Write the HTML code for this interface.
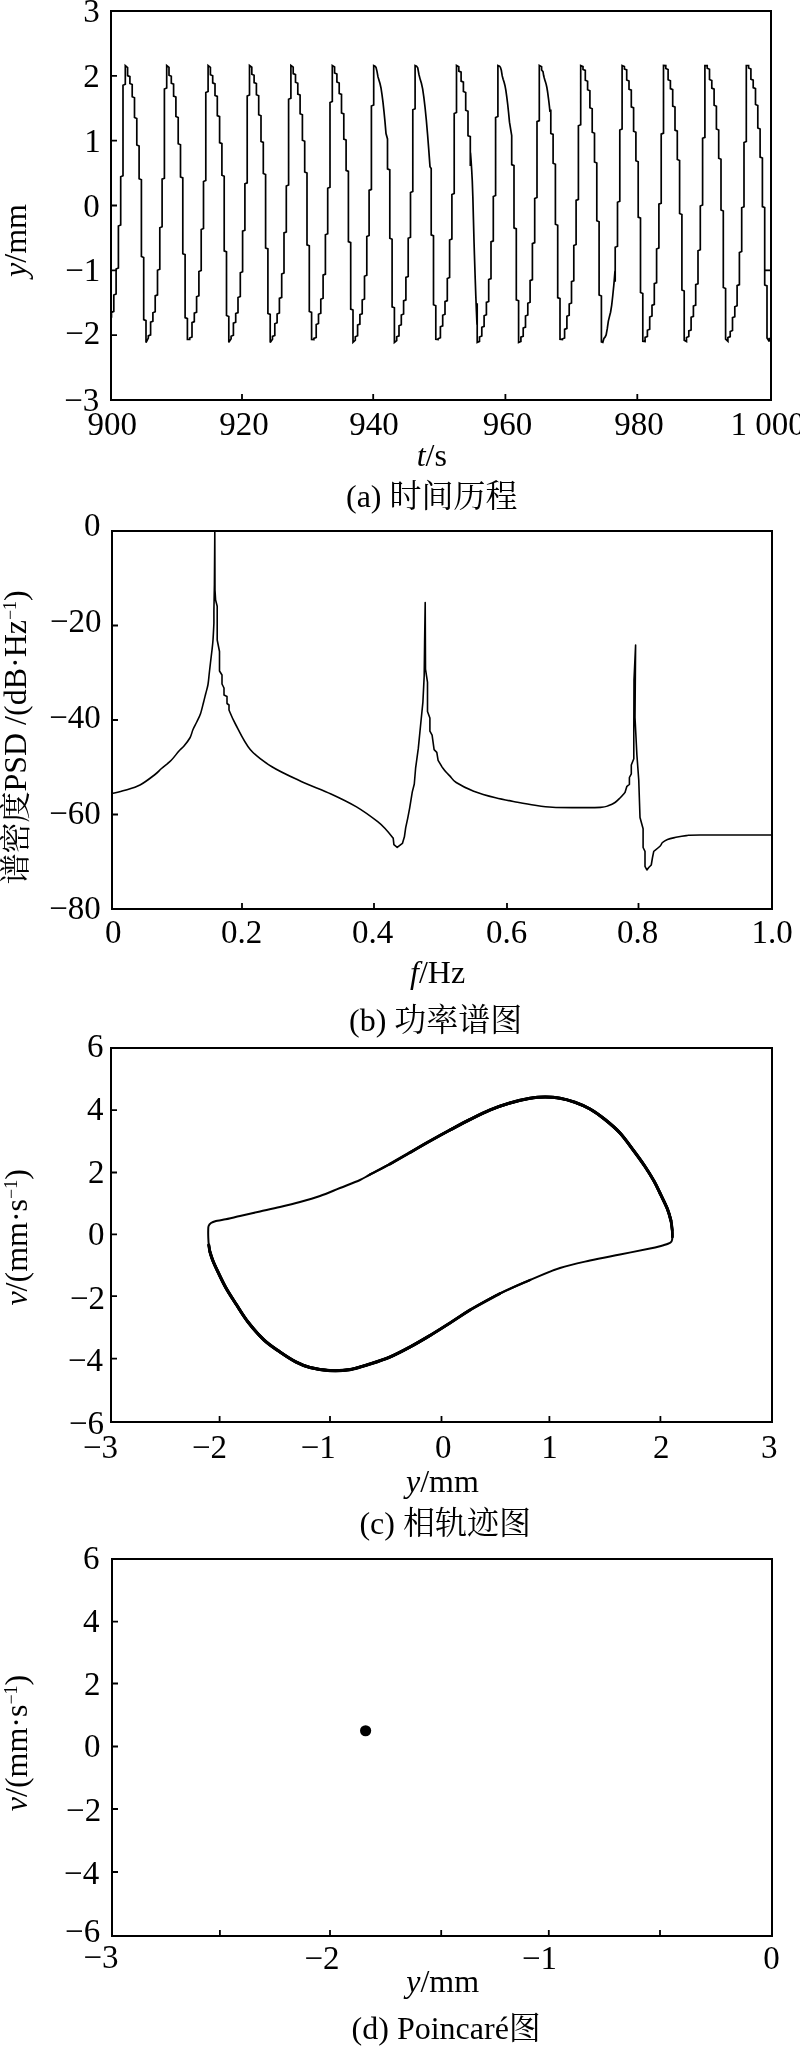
<!DOCTYPE html>
<html><head><meta charset="utf-8"><style>
html,body{margin:0;padding:0;background:#fff;}
svg{display:block;will-change:transform;}
text{font-family:"Liberation Serif","Noto Serif CJK SC",serif;fill:#000;}
</style></head><body>
<svg width="800" height="2046" viewBox="0 0 800 2046">
<rect width="800" height="2046" fill="#fff"/>
<rect x="111" y="11" width="660" height="389" fill="none" stroke="#000" stroke-width="2"/>
<path d="M242 400V394M373.2 400V394M505.4 400V394M637.3 400V394M111 75.83H117M111 140.67H117M111 205.5H117M111 270.33H117M111 335.17H117" stroke="#000" stroke-width="1.8" fill="none"/>
<path d="M771 270.33H765" stroke="#000" stroke-width="1.8"/>
<path d="M111.5 317.81 L111.5 312.4 L113.8 311.4 L113.8 295.02 L116.1 294.02 L116.1 268.98 L118.4 267.98 L118.4 226.01 L120.7 225.01 L120.7 176.75 L123 175.75 L123 85.29 L125.3 84.29 L125.3 65.51 L127.6 67.52 L127.6 75.63 L129.9 76.63 L129.9 83.49 L132.2 84.49 L132.2 96.78 L134.5 97.78 L134.5 117.48 L136.8 118.48 L136.8 144.96 L139.1 145.96 L139.1 178.7 L141.4 179.7 L141.4 256.45 L143.7 257.45 L143.7 319.62 L146 320.62 L146 342.5 L148.3 338.13 L148.3 335.89 L150.6 334.89 L150.6 322.17 L152.9 321.17 L152.9 312.81 L155.2 311.81 L155.2 295.87 L157.5 294.87 L157.5 270.3 L159.8 269.3 L159.8 227.73 L162.1 226.73 L162.1 179.17 L164.4 178.17 L164.4 88.94 L166.7 87.94 L166.7 65.5 L169 67.41 L169 75.21 L171.3 76.21 L171.3 83.18 L173.6 84.18 L173.6 96.09 L175.9 97.09 L175.9 116.55 L178.2 117.55 L178.2 143.79 L180.5 144.79 L180.5 176.92 L182.8 177.92 L182.8 253.66 L185.1 254.66 L185.1 317.62 L187.4 318.62 L187.4 339.48 L189.7 339.5 L189.7 338.06 L192 337.06 L192 322.65 L194.3 321.65 L194.3 313.18 L196.6 312.18 L196.6 296.72 L198.9 295.72 L198.9 271.55 L201.2 270.55 L201.2 229.45 L203.5 228.45 L203.5 181.53 L205.8 180.53 L205.8 92.54 L208.1 91.54 L208.1 65.52 L210.4 67.31 L210.4 74.73 L212.7 75.73 L212.7 82.87 L215 83.87 L215 95.41 L217.3 96.41 L217.3 115.63 L219.6 116.63 L219.6 142.6 L221.9 143.6 L221.9 175.21 L224.2 176.21 L224.2 250.86 L226.5 251.86 L226.5 315.54 L228.8 316.54 L228.8 342.41 L231.1 338.84 L231.1 336.26 L233.4 335.26 L233.4 323.18 L235.7 322.18 L235.7 313.59 L238 312.59 L238 297.56 L240.3 296.56 L240.3 272.78 L242.6 271.78 L242.6 231.18 L244.9 230.18 L244.9 183.82 L247.2 182.82 L247.2 95.98 L249.5 94.98 L249.5 65.51 L251.8 67.21 L251.8 74.2 L254.1 75.2 L254.1 82.57 L256.4 83.57 L256.4 94.73 L258.7 95.73 L258.7 114.72 L261 115.72 L261 141.42 L263.3 142.42 L263.3 173.55 L265.6 174.55 L265.6 247.92 L267.9 248.92 L267.9 313.43 L270.2 314.43 L270.2 342.5 L272.5 339.3 L272.5 336.43 L274.8 335.43 L274.8 323.75 L277.1 322.75 L277.1 313.97 L279.4 312.97 L279.4 298.4 L281.7 297.4 L281.7 273.98 L284 272.98 L284 232.93 L286.3 231.93 L286.3 186.06 L288.6 185.06 L288.6 99.2 L290.9 98.2 L290.9 65.5 L293.2 67.11 L293.2 73.62 L295.5 74.62 L295.5 82.27 L297.8 83.27 L297.8 94.07 L300.1 95.07 L300.1 113.81 L302.4 114.81 L302.4 140.25 L304.7 141.25 L304.7 171.95 L307 172.95 L307 244.84 L309.3 245.84 L309.3 311.41 L311.6 312.41 L311.6 339.42 L313.9 339.5 L313.9 338.41 L316.2 337.41 L316.2 324.48 L318.5 323.48 L318.5 314.28 L320.8 313.28 L320.8 299.22 L323.1 298.22 L323.1 275.15 L325.4 274.15 L325.4 234.7 L327.7 233.7 L327.7 188.25 L330 187.25 L330 102.49 L332.3 101.49 L332.3 65.53 L334.6 67.03 L334.6 73.01 L336.9 74.01 L336.9 81.98 L339.2 82.98 L339.2 93.41 L341.5 94.41 L341.5 112.92 L343.8 113.92 L343.8 139.09 L346.1 140.09 L346.1 170.4 L348.4 171.4 L348.4 241.62 L350.7 242.62 L350.7 309.07 L353 310.07 L353 342.38 L355.3 340.25 L355.3 336.71 L357.6 335.71 L357.6 325.08 L359.9 324.08 L359.9 314.68 L362.2 313.68 L362.2 300.04 L364.5 299.04 L364.5 276.29 L366.8 275.29 L366.8 236.48 L369.1 235.48 L369.1 190.38 L371.4 189.38 L371.4 106 L373.7 105 L373.7 65.51 L375 66.09 L376 67.41 L377 71.33 L378 76.92 L379 80.31 L380 83.53 L381 87.95 L382 94.58 L383 102.42 L384 111.54 L385 121.85 L386 133.54 L387.5 138.94 L387.5 168.9 L389.8 169.9 L389.8 238.3 L392.1 239.3 L392.1 306.82 L394.4 307.82 L394.4 342.49 L396.7 340.69 L396.7 336.84 L399 335.84 L399 325.81 L401.3 324.81 L401.3 315.03 L403.6 314.03 L403.6 300.85 L405.9 299.85 L405.9 277.41 L408.2 276.41 L408.2 238.27 L410.5 237.27 L410.5 192.47 L412.8 191.47 L412.8 109.7 L415.1 108.7 L415.1 65.5 L416.5 66.1 L417.73 67.81 L418.95 74.47 L420.18 79.35 L421.41 83.24 L422.64 88.8 L423.86 97.43 L425.09 107.74 L426.32 119.99 L427.55 134.22 L428.77 149.94 L430 166.65 L431.2 168.44 L431.2 234.88 L433.5 235.88 L433.5 304.74 L435.8 305.74 L435.8 339.33 L438.1 339.5 L438.1 338.72 L440.4 337.72 L440.4 326.84 L442.7 325.84 L442.7 315.29 L445 314.29 L445 301.64 L447.3 300.64 L447.3 278.51 L449.6 277.51 L449.6 240.06 L451.9 239.06 L451.9 194.52 L454.2 193.52 L454.2 113.55 L456.5 112.55 L456.5 65.53 L458.8 66.81 L458.8 71.12 L461.1 72.12 L461.1 81.14 L463.4 82.14 L463.4 91.51 L465.7 92.51 L465.7 110.28 L468 111.28 L468 135.66 L470.3 136.66 L470.3 166.03 L470.5 152.93 L471.09 160.75 L471.68 169.76 L472.27 180.8 L472.86 197.3 L473.45 219.69 L474.05 242.54 L474.64 261.57 L475.23 279.33 L475.82 296.04 L476.41 311.25 L477 324.81 L477.2 303.21 L477.2 342.34 L479.5 341.34 L479.5 337.06 L481.8 336.06 L481.8 327.33 L484.1 326.33 L484.1 315.7 L486.4 314.7 L486.4 302.42 L488.7 301.42 L488.7 279.59 L491 278.59 L491 241.85 L493.3 240.85 L493.3 196.52 L495.6 195.52 L495.6 117.53 L497.9 116.53 L497.9 65.51 L499.5 66.11 L500.41 67.31 L501.32 70.3 L502.23 75.92 L503.14 79.27 L504.05 82.1 L504.95 85.43 L505.86 90.34 L506.77 96.88 L507.68 104.24 L508.59 112.73 L509.5 122.18 L511.7 135.53 L511.7 164.65 L514 165.65 L514 227.86 L516.3 228.86 L516.3 299.84 L518.6 300.84 L518.6 342.48 L520.9 341.48 L520.9 337.16 L523.2 336.16 L523.2 328.09 L525.5 327.09 L525.5 316.03 L527.8 315.03 L527.8 303.19 L530.1 302.19 L530.1 280.64 L532.4 279.64 L532.4 243.65 L534.7 242.65 L534.7 198.48 L537 197.48 L537 121.61 L539.3 120.61 L539.3 65.5 L541.6 66.69 L541.6 69.94 L543 71.61 L543.64 75.56 L544.27 78.08 L544.91 80.15 L545.55 82.13 L546.18 84.36 L546.82 87.19 L547.45 91 L548.09 95.57 L548.73 100.51 L549.36 105.94 L550 111.93 L550.8 109.57 L550.8 133.41 L553.1 134.41 L553.1 163.31 L555.4 164.31 L555.4 224.29 L557.7 225.29 L557.7 297.65 L560 298.65 L560 339.21 L562.3 339.5 L562.3 338.98 L564.6 337.98 L564.6 329.38 L566.9 328.38 L566.9 316.26 L569.2 315.26 L569.2 303.94 L571.5 302.94 L571.5 281.67 L573.8 280.67 L573.8 245.44 L576.1 244.44 L576.1 200.4 L578.4 199.4 L578.4 125.76 L580.7 124.76 L580.7 65.51 L583 66.64 L583 69.41 L585.3 70.41 L585.3 80.31 L587.6 81.31 L587.6 89.74 L589.9 90.74 L589.9 107.73 L592.2 108.73 L592.2 132.31 L594.5 133.31 L594.5 162.01 L596.8 163.01 L596.8 220.7 L599.1 221.7 L599.1 295 L601.4 296 L601.4 341.97 L602.8 342.38 L603.91 338.41 L605.02 337.17 L606.13 335.01 L607.24 328.88 L608.35 321.13 L609.45 316.66 L610.56 312.24 L611.67 305.29 L612.78 295.48 L613.89 284.43 L615 270.86 L615.2 281.69 L615.2 247.22 L617.5 246.22 L617.5 202.3 L619.8 201.3 L619.8 129.94 L622.1 128.94 L622.1 65.52 L624.4 66.6 L624.4 68.93 L626.7 69.93 L626.7 80.03 L629 81.03 L629 89.18 L631.3 90.18 L631.3 106.9 L633.6 107.9 L633.6 131.21 L635.9 132.21 L635.9 160.74 L638.2 161.74 L638.2 217.12 L640.5 218.12 L640.5 292.52 L642.8 293.52 L642.8 341.2 L645.1 341.47 L645.1 337.43 L647.4 336.43 L647.4 330.27 L649.7 329.27 L649.7 317.01 L652 316.01 L652 305.39 L654.3 304.39 L654.3 283.68 L656.6 282.68 L656.6 248.99 L658.9 247.99 L658.9 204.16 L661.2 203.16 L661.2 134.14 L663.5 133.14 L663.5 65.5 L665.8 65.57 L665.8 68.53 L668.1 69.53 L668.1 79.75 L670.4 80.75 L670.4 88.64 L672.7 89.64 L672.7 106.09 L675 107.09 L675 130.13 L677.3 131.13 L677.3 159.49 L679.6 160.49 L679.6 213.56 L681.9 214.56 L681.9 290.02 L684.2 291.02 L684.2 340.2 L686.5 341.47 L686.5 337.52 L688.8 336.52 L688.8 330.91 L691.1 329.91 L691.1 317.33 L693.4 316.33 L693.4 306.08 L695.7 305.08 L695.7 284.66 L698 283.66 L698 250.74 L700.3 249.74 L700.3 205.99 L702.6 204.99 L702.6 138.32 L704.9 137.32 L704.9 65.5 L707.2 65.54 L707.2 68.22 L709.5 69.22 L709.5 79.47 L711.8 80.47 L711.8 88.12 L714.1 89.12 L714.1 105.28 L716.4 106.28 L716.4 129.05 L718.7 130.05 L718.7 158.27 L721 159.27 L721 210.05 L723.3 211.05 L723.3 287.48 L725.6 288.48 L725.6 339.1 L727.9 341.24 L727.9 337.61 L730.2 336.61 L730.2 331.49 L732.5 330.49 L732.5 317.66 L734.8 316.66 L734.8 306.76 L737.1 305.76 L737.1 285.62 L739.4 284.62 L739.4 252.48 L741.7 251.48 L741.7 207.79 L744 206.79 L744 142.45 L746.3 141.45 L746.3 65.52 L748.6 65.52 L748.6 68 L750.9 69 L750.9 79.18 L753.2 80.18 L753.2 87.63 L755.5 88.63 L755.5 104.48 L757.8 105.48 L757.8 127.99 L760.1 128.99 L760.1 157.07 L762.4 158.07 L762.4 206.6 L764.7 207.6 L764.7 284.91 L767 285.91 L767 338 L769.3 341.44 L769.3 337.7" fill="none" stroke="#000" stroke-width="1.7" stroke-linejoin="miter" stroke-miterlimit="3"/>
<rect x="112" y="531" width="660" height="378" fill="none" stroke="#000" stroke-width="2"/>
<path d="M242 909V903M374 909V903M507 909V903M638.5 909V903M112 625.5H118M112 720H118M112 814.5H118" stroke="#000" stroke-width="1.8" fill="none"/>
<path d="M112 793.5 C114.17 792.97 120.33 791.72 125 790.3 C129.67 788.88 135 787.63 140 785 C145 782.37 151.42 777.25 155 774.5 C158.58 771.75 158.79 770.88 161.5 768.5 C164.21 766.12 168.38 763.12 171.25 760.25 C174.12 757.38 176.62 753.62 178.75 751.25 C180.88 748.88 182.12 748.25 184 746 C185.88 743.75 188.5 740.5 190 737.75 C191.5 735 191.88 732.12 193 729.5 C194.12 726.88 195.5 724.62 196.75 722 C198 719.38 199.38 717 200.5 713.75 C201.62 710.5 202.62 705.88 203.5 702.5 C204.38 699.12 205 696.5 205.75 693.5 C206.5 690.5 207.41 687.92 208 684.5 C208.59 681.08 208.88 676.67 209.3 673 C209.72 669.33 210.05 666.33 210.5 662.5 C210.95 658.67 211.58 653.75 212 650 C212.42 646.25 212.68 644.45 213 640 C213.32 635.55 213.75 626.08 213.9 623.3 L213.9 610.5 L214.4 584.8 L214.8 531.5 L215 590 L215.6 600 L217.2 606.2 L217.2 640 L219.5 651.5 L219.5 671 L222 675 L222 684 L224 688 L224 695 L227 696.5 L227 703.5 L229 705 L229 710 L229 710 C230.07 712.33 231.87 717.42 235.4 724 C238.93 730.58 244.18 742.42 250.2 749.5 C256.22 756.58 263 761.18 271.5 766.5 C280 771.82 291.28 776.82 301.2 781.4 C311.12 785.98 321.78 789.75 331 794 C340.22 798.25 348.72 802.28 356.5 806.9 C364.28 811.52 372.68 817.82 377.7 821.7 C382.72 825.58 384.02 827.47 386.6 830.2 C389.18 832.93 392.1 836.78 393.2 838.1 L393.9 844.7 L397.2 847.4 L402.4 843.4 L404.4 836.8 L405.7 827.6 L407.7 818.3 L409.7 807.8 L412.3 791.9 L414.3 784 L415.6 768.2 L418.3 748.4 L420.9 722 L422.9 702.2 L424.2 675.8 L424.6 642.8 L425.2 602.5 L425.5 669.2 L427.5 682.4 L427.5 711.4 L429.9 718 L429.9 731.2 L432.1 735.2 L434.1 749.7 L436.8 752.3 L438.1 760.3 L442 766.9 L442 766.9 C442.67 767.77 444.67 770.57 446 772.1 C447.33 773.63 448.3 774.37 450 776.1 C451.7 777.83 452.25 779.98 456.2 782.5 C460.15 785.02 467.13 788.65 473.7 791.2 C480.27 793.75 488.3 795.97 495.6 797.8 C502.9 799.63 510.93 800.97 517.5 802.2 C524.07 803.43 529.17 804.37 535 805.2 C540.83 806.03 545.83 806.8 552.5 807.2 C559.17 807.6 566.98 807.57 575 807.6 C583.02 807.63 594.98 807.73 600.6 807.4 C606.23 807.07 606.35 806.42 608.75 805.6 C611.15 804.78 613.12 803.77 615 802.5 C616.88 801.23 618.33 799.67 620 798 C621.67 796.33 624.17 793.42 625 792.5 L626.9 786.3 L629.4 784.4 L629.4 777.5 L631.3 773.8 L631.3 765 L633.8 758.8 L633.8 730 L634 680 L635.6 645 L635 717.5 L636.9 755 L638.75 780 L640 817.5 L643.1 828.8 L643.1 847.5 L645 851.3 L645 866.3 L646.9 870 L648.75 867.5 L651.25 865 L652.5 857.5 L653.75 851.3 L653.75 851.3 C654.79 850.47 658.54 847.77 660 846.3 C661.46 844.83 661.25 843.65 662.5 842.5 C663.75 841.35 665.42 840.23 667.5 839.4 C669.58 838.57 671.88 838.13 675 837.5 C678.12 836.87 682.08 836.02 686.25 835.6 C690.42 835.18 685.71 835.1 700 835 C714.29 834.9 760 835 772 835" fill="none" stroke="#000" stroke-width="1.6" stroke-linejoin="round"/>
<rect x="111" y="1048" width="661" height="374" fill="none" stroke="#000" stroke-width="2"/>
<path d="M219.6 1422V1416M330 1422V1416M441.5 1422V1416M549.4 1422V1416M660.4 1422V1416M111 1110.1H117M111 1172.5H117M111 1234.3H117M111 1296.2H117M111 1358.6H117" stroke="#000" stroke-width="1.8" fill="none"/>
<path d="M208.3 1238 C208.2 1235.67 208.15 1233 208.2 1231 C208.25 1229 208.13 1227.33 208.6 1226 C209.07 1224.67 209.77 1223.83 211 1223 C212.23 1222.17 213.83 1221.57 216 1221 C218.17 1220.43 220 1220.43 224 1219.6 C228 1218.77 234 1217.35 240 1216 C246 1214.65 253.33 1213 260 1211.5 C266.67 1210 273.33 1208.58 280 1207 C286.67 1205.42 293.33 1203.83 300 1202 C306.67 1200.17 313.33 1198.33 320 1196 C326.67 1193.67 333.33 1190.67 340 1188 C346.67 1185.33 355 1182.25 360 1180 C365 1177.75 365 1177.17 370 1174.5 C375 1171.83 383.33 1167.67 390 1164 C396.67 1160.33 403.33 1156.33 410 1152.5 C416.67 1148.67 423.33 1144.75 430 1141 C436.67 1137.25 443.33 1133.58 450 1130 C456.67 1126.42 463.33 1122.83 470 1119.5 C476.67 1116.17 483.33 1112.75 490 1110 C496.67 1107.25 503.33 1104.95 510 1103 C516.67 1101.05 524.17 1099.3 530 1098.3 C535.83 1097.3 540 1097.02 545 1097 C550 1096.98 555 1097.32 560 1098.2 C565 1099.08 570 1100.5 575 1102.3 C580 1104.1 585 1106.13 590 1109 C595 1111.87 600 1115.5 605 1119.5 C610 1123.5 615.22 1127.8 620 1133 C624.78 1138.2 629.53 1145.12 633.7 1150.7 C637.87 1156.28 641.62 1161.43 645 1166.5 C648.38 1171.57 651.38 1176.42 654 1181.1 C656.62 1185.78 658.45 1189.92 660.7 1194.6 C662.95 1199.28 665.8 1204.88 667.5 1209.2 C669.2 1213.52 670.12 1217.03 670.9 1220.5 C671.68 1223.97 671.95 1227.25 672.2 1230 C672.45 1232.75 672.52 1235.08 672.4 1237 C672.28 1238.92 672.23 1240.37 671.5 1241.5 C670.77 1242.63 669.92 1243.02 668 1243.8 C666.08 1244.58 663 1245.42 660 1246.2 C657 1246.98 656.67 1247.12 650 1248.5 C643.33 1249.88 630 1252.5 620 1254.5 C610 1256.5 600 1258.25 590 1260.5 C580 1262.75 570 1264.75 560 1268 C550 1271.25 540 1275.75 530 1280 C520 1284.25 510 1288.5 500 1293.5 C490 1298.5 478.33 1305.08 470 1310 C461.67 1314.92 456.67 1318.75 450 1323 C443.33 1327.25 436.67 1331.5 430 1335.5 C423.33 1339.5 416.67 1343.42 410 1347 C403.33 1350.58 396.67 1354.17 390 1357 C383.33 1359.83 376.67 1361.9 370 1364 C363.33 1366.1 356.67 1368.5 350 1369.6 C343.33 1370.7 336.67 1370.95 330 1370.6 C323.33 1370.25 315.67 1368.93 310 1367.5 C304.33 1366.07 301 1364.58 296 1362 C291 1359.42 285.33 1355.67 280 1352 C274.67 1348.33 269.33 1345 264 1340 C258.67 1335 252.67 1328 248 1322 C243.33 1316 239.67 1309.67 236 1304 C232.33 1298.33 229 1293.33 226 1288 C223 1282.67 220.17 1276.5 218 1272 C215.83 1267.5 214.33 1264.33 213 1261 C211.67 1257.67 210.7 1254.67 210 1252 C209.3 1249.33 209.08 1247.33 208.8 1245 C208.52 1242.67 208.4 1240.33 208.3 1238Z" fill="none" stroke="#000" stroke-width="2.0" stroke-linejoin="round"/>
<path d="M370 1174.5 C373.33 1172.75 383.33 1167.67 390 1164 C396.67 1160.33 403.33 1156.33 410 1152.5 C416.67 1148.67 423.33 1144.75 430 1141 C436.67 1137.25 443.33 1133.58 450 1130 C456.67 1126.42 463.33 1122.83 470 1119.5 C476.67 1116.17 483.33 1112.75 490 1110 C496.67 1107.25 503.33 1104.95 510 1103 C516.67 1101.05 524.17 1099.3 530 1098.3 C535.83 1097.3 540 1097.02 545 1097 C550 1096.98 555 1097.32 560 1098.2 C565 1099.08 570 1100.5 575 1102.3 C580 1104.1 585 1106.13 590 1109 C595 1111.87 600 1115.5 605 1119.5 C610 1123.5 615.22 1127.8 620 1133 C624.78 1138.2 629.53 1145.12 633.7 1150.7 C637.87 1156.28 641.62 1161.43 645 1166.5 C648.38 1171.57 651.38 1176.42 654 1181.1 C656.62 1185.78 658.45 1189.92 660.7 1194.6 C662.95 1199.28 665.8 1204.88 667.5 1209.2 C669.2 1213.52 670.12 1217.03 670.9 1220.5 C671.68 1223.97 671.95 1227.25 672.2 1230 C672.45 1232.75 672.37 1235.83 672.4 1237" fill="none" stroke="#000" stroke-width="2.35" stroke-linecap="round"/>
<path d="M390 1164 C393.33 1162.08 403.33 1156.33 410 1152.5 C416.67 1148.67 423.33 1144.75 430 1141 C436.67 1137.25 443.33 1133.58 450 1130 C456.67 1126.42 463.33 1122.83 470 1119.5 C476.67 1116.17 483.33 1112.75 490 1110 C496.67 1107.25 503.33 1104.95 510 1103 C516.67 1101.05 524.17 1099.3 530 1098.3 C535.83 1097.3 540 1097.02 545 1097 C550 1096.98 555 1097.32 560 1098.2 C565 1099.08 570 1100.5 575 1102.3 C580 1104.1 585 1106.13 590 1109 C595 1111.87 600 1115.5 605 1119.5 C610 1123.5 615.22 1127.8 620 1133 C624.78 1138.2 629.53 1145.12 633.7 1150.7 C637.87 1156.28 641.62 1161.43 645 1166.5 C648.38 1171.57 651.38 1176.42 654 1181.1 C656.62 1185.78 658.45 1189.92 660.7 1194.6 C662.95 1199.28 665.8 1204.88 667.5 1209.2 C669.2 1213.52 670.12 1217.03 670.9 1220.5 C671.68 1223.97 671.95 1227.25 672.2 1230 C672.45 1232.75 672.37 1235.83 672.4 1237" fill="none" stroke="#000" stroke-width="2.65" stroke-linecap="round"/>
<path d="M410 1152.5 C413.33 1150.58 423.33 1144.75 430 1141 C436.67 1137.25 443.33 1133.58 450 1130 C456.67 1126.42 463.33 1122.83 470 1119.5 C476.67 1116.17 483.33 1112.75 490 1110 C496.67 1107.25 503.33 1104.95 510 1103 C516.67 1101.05 524.17 1099.3 530 1098.3 C535.83 1097.3 540 1097.02 545 1097 C550 1096.98 555 1097.32 560 1098.2 C565 1099.08 570 1100.5 575 1102.3 C580 1104.1 585 1106.13 590 1109 C595 1111.87 600 1115.5 605 1119.5 C610 1123.5 615.22 1127.8 620 1133 C624.78 1138.2 629.53 1145.12 633.7 1150.7 C637.87 1156.28 641.62 1161.43 645 1166.5 C648.38 1171.57 651.38 1176.42 654 1181.1 C656.62 1185.78 658.45 1189.92 660.7 1194.6 C662.95 1199.28 665.8 1204.88 667.5 1209.2 C669.2 1213.52 670.12 1217.03 670.9 1220.5 C671.68 1223.97 671.98 1228.42 672.2 1230" fill="none" stroke="#000" stroke-width="2.9" stroke-linecap="round"/>
<path d="M450 1130 C453.33 1128.25 463.33 1122.83 470 1119.5 C476.67 1116.17 483.33 1112.75 490 1110 C496.67 1107.25 503.33 1104.95 510 1103 C516.67 1101.05 524.17 1099.3 530 1098.3 C535.83 1097.3 540 1097.02 545 1097 C550 1096.98 555 1097.32 560 1098.2 C565 1099.08 570 1100.5 575 1102.3 C580 1104.1 585 1106.13 590 1109 C595 1111.87 600 1115.5 605 1119.5 C610 1123.5 615.22 1127.8 620 1133 C624.78 1138.2 629.53 1145.12 633.7 1150.7 C637.87 1156.28 641.62 1161.43 645 1166.5 C648.38 1171.57 651.38 1176.42 654 1181.1 C656.62 1185.78 658.45 1189.92 660.7 1194.6 C662.95 1199.28 665.8 1204.88 667.5 1209.2 C669.2 1213.52 670.33 1218.62 670.9 1220.5" fill="none" stroke="#000" stroke-width="3.1" stroke-linecap="round"/>
<path d="M530 1280 C525 1282.25 510 1288.5 500 1293.5 C490 1298.5 478.33 1305.08 470 1310 C461.67 1314.92 456.67 1318.75 450 1323 C443.33 1327.25 436.67 1331.5 430 1335.5 C423.33 1339.5 416.67 1343.42 410 1347 C403.33 1350.58 396.67 1354.17 390 1357 C383.33 1359.83 376.67 1361.9 370 1364 C363.33 1366.1 356.67 1368.5 350 1369.6 C343.33 1370.7 336.67 1370.95 330 1370.6 C323.33 1370.25 315.67 1368.93 310 1367.5 C304.33 1366.07 301 1364.58 296 1362 C291 1359.42 285.33 1355.67 280 1352 C274.67 1348.33 269.33 1345 264 1340 C258.67 1335 252.67 1328 248 1322 C243.33 1316 239.67 1309.67 236 1304 C232.33 1298.33 229 1293.33 226 1288 C223 1282.67 220.17 1276.5 218 1272 C215.83 1267.5 214.33 1264.33 213 1261 C211.67 1257.67 210.7 1254.67 210 1252 C209.3 1249.33 209 1246.17 208.8 1245" fill="none" stroke="#000" stroke-width="2.35" stroke-linecap="round"/>
<path d="M500 1293.5 C495 1296.25 478.33 1305.08 470 1310 C461.67 1314.92 456.67 1318.75 450 1323 C443.33 1327.25 436.67 1331.5 430 1335.5 C423.33 1339.5 416.67 1343.42 410 1347 C403.33 1350.58 396.67 1354.17 390 1357 C383.33 1359.83 376.67 1361.9 370 1364 C363.33 1366.1 356.67 1368.5 350 1369.6 C343.33 1370.7 336.67 1370.95 330 1370.6 C323.33 1370.25 315.67 1368.93 310 1367.5 C304.33 1366.07 301 1364.58 296 1362 C291 1359.42 285.33 1355.67 280 1352 C274.67 1348.33 269.33 1345 264 1340 C258.67 1335 252.67 1328 248 1322 C243.33 1316 239.67 1309.67 236 1304 C232.33 1298.33 229 1293.33 226 1288 C223 1282.67 220.17 1276.5 218 1272 C215.83 1267.5 214.33 1264.33 213 1261 C211.67 1257.67 210.7 1254.67 210 1252 C209.3 1249.33 209 1246.17 208.8 1245" fill="none" stroke="#000" stroke-width="2.65" stroke-linecap="round"/>
<path d="M470 1310 C466.67 1312.17 456.67 1318.75 450 1323 C443.33 1327.25 436.67 1331.5 430 1335.5 C423.33 1339.5 416.67 1343.42 410 1347 C403.33 1350.58 396.67 1354.17 390 1357 C383.33 1359.83 376.67 1361.9 370 1364 C363.33 1366.1 356.67 1368.5 350 1369.6 C343.33 1370.7 336.67 1370.95 330 1370.6 C323.33 1370.25 315.67 1368.93 310 1367.5 C304.33 1366.07 301 1364.58 296 1362 C291 1359.42 285.33 1355.67 280 1352 C274.67 1348.33 269.33 1345 264 1340 C258.67 1335 252.67 1328 248 1322 C243.33 1316 239.67 1309.67 236 1304 C232.33 1298.33 229 1293.33 226 1288 C223 1282.67 220.17 1276.5 218 1272 C215.83 1267.5 214.33 1264.33 213 1261 C211.67 1257.67 210.7 1254.67 210 1252 C209.3 1249.33 209 1246.17 208.8 1245" fill="none" stroke="#000" stroke-width="2.9" stroke-linecap="round"/>
<path d="M430 1335.5 C426.67 1337.42 416.67 1343.42 410 1347 C403.33 1350.58 396.67 1354.17 390 1357 C383.33 1359.83 376.67 1361.9 370 1364 C363.33 1366.1 356.67 1368.5 350 1369.6 C343.33 1370.7 336.67 1370.95 330 1370.6 C323.33 1370.25 315.67 1368.93 310 1367.5 C304.33 1366.07 301 1364.58 296 1362 C291 1359.42 285.33 1355.67 280 1352 C274.67 1348.33 269.33 1345 264 1340 C258.67 1335 252.67 1328 248 1322 C243.33 1316 239.67 1309.67 236 1304 C232.33 1298.33 229 1293.33 226 1288 C223 1282.67 220.17 1276.5 218 1272 C215.83 1267.5 214.33 1264.33 213 1261 C211.67 1257.67 210.5 1253.5 210 1252" fill="none" stroke="#000" stroke-width="3.1" stroke-linecap="round"/>
<rect x="112" y="1559" width="660" height="377" fill="none" stroke="#000" stroke-width="2"/>
<path d="M219.9 1936V1930M330 1936V1930M441.2 1936V1930M548.8 1936V1930M660 1936V1930M112 1621.7H118M112 1683.5H118M112 1746.5H118M112 1809H118M112 1872H118" stroke="#000" stroke-width="1.8" fill="none"/>
<circle cx="365.6" cy="1730.75" r="5.6" fill="#000"/>
<text x="83.2" y="22.3" font-size="33" text-anchor="start">3</text>
<text x="83.2" y="86.85" font-size="33" text-anchor="start">2</text>
<text x="84.2" y="152.35" font-size="33" text-anchor="start">1</text>
<text x="83.2" y="217.1" font-size="33" text-anchor="start">0</text>
<text x="65.2" y="280.68" font-size="33" text-anchor="start">−1</text>
<text x="65.2" y="343.9" font-size="33" text-anchor="start">−2</text>
<text x="64.2" y="410.82" font-size="33" text-anchor="start">−3</text>
<text x="87.4" y="434.6" font-size="33" text-anchor="start">900</text>
<text x="219.2" y="434.6" font-size="33" text-anchor="start">920</text>
<text x="349.25" y="434.6" font-size="33" text-anchor="start">940</text>
<text x="482.8" y="434.6" font-size="33" text-anchor="start">960</text>
<text x="614.25" y="434.6" font-size="33" text-anchor="start">980</text>
<text x="730.5" y="434.6" font-size="33" text-anchor="start">1 000</text>
<text x="416.65" y="465.6" font-size="32" text-anchor="start"><tspan font-style="italic">t</tspan>/s</text>
<text x="26" y="276.9" font-size="32" text-anchor="start" transform="rotate(-90 26 276.9)"><tspan font-style="italic">y</tspan>/mm</text>
<text x="346" y="506.5" font-size="32" text-anchor="start">(a) 时间历程</text>
<text x="84" y="536" font-size="33" text-anchor="start">0</text>
<text x="50" y="632" font-size="33" text-anchor="start">−20</text>
<text x="49.2" y="728.25" font-size="33" text-anchor="start">−40</text>
<text x="49.2" y="823.85" font-size="33" text-anchor="start">−60</text>
<text x="49.2" y="919.45" font-size="33" text-anchor="start">−80</text>
<text x="105" y="943.4" font-size="33" text-anchor="start">0</text>
<text x="221" y="943.4" font-size="33" text-anchor="start">0.2</text>
<text x="352.1" y="943.4" font-size="33" text-anchor="start">0.4</text>
<text x="486" y="943.4" font-size="33" text-anchor="start">0.6</text>
<text x="617" y="943.4" font-size="33" text-anchor="start">0.8</text>
<text x="751.5" y="943.4" font-size="33" text-anchor="start">1.0</text>
<text x="410" y="983" font-size="32" text-anchor="start"><tspan font-style="italic">f</tspan>/Hz</text>
<text x="26" y="884.6" font-size="32" text-anchor="start" transform="rotate(-90 26 884.6)"><tspan font-size="31">谱密度</tspan>PSD /(dB·Hz<tspan dy="-10" font-size="18">−1</tspan><tspan dy="10">)</tspan></text>
<text x="349" y="1031" font-size="32" text-anchor="start">(b) 功率谱图</text>
<text x="86.9" y="1057.1" font-size="33" text-anchor="start">6</text>
<text x="86.9" y="1119.75" font-size="33" text-anchor="start">4</text>
<text x="87.9" y="1182.65" font-size="33" text-anchor="start">2</text>
<text x="87.9" y="1245" font-size="33" text-anchor="start">0</text>
<text x="69.9" y="1308.6" font-size="33" text-anchor="start">−2</text>
<text x="67.9" y="1371" font-size="33" text-anchor="start">−4</text>
<text x="68.9" y="1434" font-size="33" text-anchor="start">−6</text>
<text x="83" y="1457.5" font-size="33" text-anchor="start">−3</text>
<text x="192" y="1457.5" font-size="33" text-anchor="start">−2</text>
<text x="300.75" y="1457.5" font-size="33" text-anchor="start">−1</text>
<text x="435" y="1457.5" font-size="33" text-anchor="start">0</text>
<text x="541.2" y="1457.5" font-size="33" text-anchor="start">1</text>
<text x="653" y="1457.5" font-size="33" text-anchor="start">2</text>
<text x="761" y="1457.5" font-size="33" text-anchor="start">3</text>
<text x="406" y="1491.75" font-size="32" text-anchor="start"><tspan font-style="italic">y</tspan>/mm</text>
<text x="27.5" y="1305.6" font-size="32" text-anchor="start" transform="rotate(-90 27.5 1305.6)"><tspan font-style="italic">v</tspan>/(mm·s<tspan dy="-10" font-size="18">−1</tspan><tspan dy="10">)</tspan></text>
<text x="359.4" y="1533.6" font-size="32" text-anchor="start">(c) 相轨迹图</text>
<text x="83.1" y="1569" font-size="33" text-anchor="start">6</text>
<text x="83.1" y="1632.2" font-size="33" text-anchor="start">4</text>
<text x="84.1" y="1694.8" font-size="33" text-anchor="start">2</text>
<text x="84.1" y="1757.45" font-size="33" text-anchor="start">0</text>
<text x="66.1" y="1821.15" font-size="33" text-anchor="start">−2</text>
<text x="64.1" y="1884.05" font-size="33" text-anchor="start">−4</text>
<text x="65.1" y="1942.35" font-size="33" text-anchor="start">−6</text>
<text x="83.4" y="1967.6" font-size="33" text-anchor="start">−3</text>
<text x="304.5" y="1968.5" font-size="33" text-anchor="start">−2</text>
<text x="522" y="1968.85" font-size="33" text-anchor="start">−1</text>
<text x="763.3" y="1968.85" font-size="33" text-anchor="start">0</text>
<text x="406.25" y="1991.75" font-size="32" text-anchor="start"><tspan font-style="italic">y</tspan>/mm</text>
<text x="27.5" y="1811.2" font-size="32" text-anchor="start" transform="rotate(-90 27.5 1811.2)"><tspan font-style="italic">v</tspan>/(mm·s<tspan dy="-10" font-size="18">−1</tspan><tspan dy="10">)</tspan></text>
<text x="351.6" y="2039.4" font-size="32" text-anchor="start">(d) Poincaré图</text>
</svg>
</body></html>
